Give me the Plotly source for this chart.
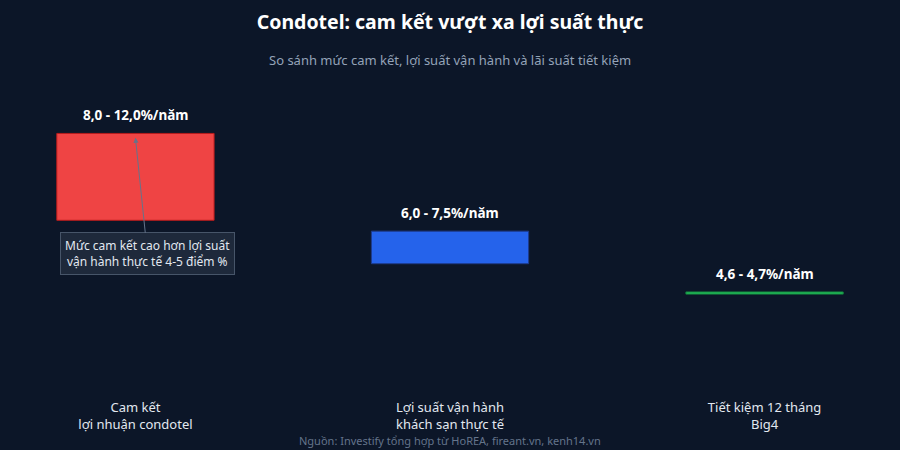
import plotly.graph_objects as go

categories = ["Cam kết<br>lợi nhuận condotel", "Lợi suất vận hành<br>khách sạn thực tế", "Tiết kiệm 12 tháng<br>Big4"]
low_values = [8.0, 6.0, 4.6]
high_values = [12.0, 7.5, 4.7]
value_labels = ["8,0 - 12,0%/năm", "6,0 - 7,5%/năm", "4,6 - 4,7%/năm"]
colors = ["#ef4444", "#2563eb", "#22c55e"]
line_colors = ["#b91c1c", "#1e3a8a", "#15803d"]

BG = "#0c1628"
FONT = "Noto Sans"
W, H = 900, 450
MT, MB = 90, 56
PLOT_H = H - MT - MB


def paper_y(py):
    return (H - MB - py) / PLOT_H


x_idx = list(range(len(categories)))
fig = go.Figure()
fig.add_trace(go.Bar(
    x=x_idx,
    y=[h - l for h, l in zip(high_values, low_values)],
    base=low_values,
    width=0.5,
    marker=dict(color=colors, line=dict(color=line_colors, width=1)),
    hoverinfo="skip",
    showlegend=False,
))

for i, (h, lab) in enumerate(zip(high_values, value_labels)):
    fig.add_annotation(
        x=i, y=h, xref="x", yref="y", text=f"<b>{lab}</b>", showarrow=False,
        yanchor="bottom", yshift=7, font=dict(family=FONT, size=13.5, color="#ffffff"),
    )

fig.add_annotation(
    x=0, y=11.8, xref="x", yref="y",
    text="Mức cam kết cao hơn lợi suất<br>vận hành thực tế 4-5 điểm %",
    showarrow=True, arrowhead=2, arrowsize=1, arrowwidth=1, arrowcolor="#64748b",
    ax=12, ay=116,
    font=dict(family=FONT, size=12, color="#e2e8f0"),
    bgcolor="#1e293b", bordercolor="#475569", borderwidth=1, borderpad=4,
    align="center",
)

fig.add_annotation(
    text="So sánh mức cam kết, lợi suất vận hành và lãi suất tiết kiệm",
    x=0.5, xref="paper", y=paper_y(60), yref="paper", yanchor="middle",
    showarrow=False, font=dict(family=FONT, size=13, color="#94a3b8"),
)
fig.add_annotation(
    text="Nguồn: Investify tổng hợp từ HoREA, fireant.vn, kenh14.vn",
    x=0.5, xref="paper", y=paper_y(440), yref="paper", yanchor="middle",
    showarrow=False, font=dict(family=FONT, size=11, color="#64748b"),
)

fig.update_layout(
    width=W, height=H,
    paper_bgcolor=BG, plot_bgcolor=BG,
    margin=dict(l=20, r=20, t=MT, b=MB),
    title=dict(
        text="<b>Condotel: cam kết vượt xa lợi suất thực</b>",
        x=0.5, xanchor="center", y=1 - 22 / H, yanchor="middle",
        font=dict(family=FONT, size=19.5, color="#ffffff"),
    ),
    font=dict(family=FONT, color="#e2e8f0"),
)

fig.update_xaxes(
    tickmode="array", tickvals=x_idx, ticktext=categories,
    range=[-0.367, 2.367], showgrid=False, zeroline=False, showline=False,
    ticklabelstandoff=4,
    tickfont=dict(family=FONT, size=13, color="#e2e8f0"),
)
fig.update_yaxes(range=[0, 14], visible=False, showgrid=False, zeroline=False)

fig.write_html(
    "out.html",
    config={"displayModeBar": False},
    post_script="document.body.style.margin='0';document.body.style.background='" + BG + "';",
)
